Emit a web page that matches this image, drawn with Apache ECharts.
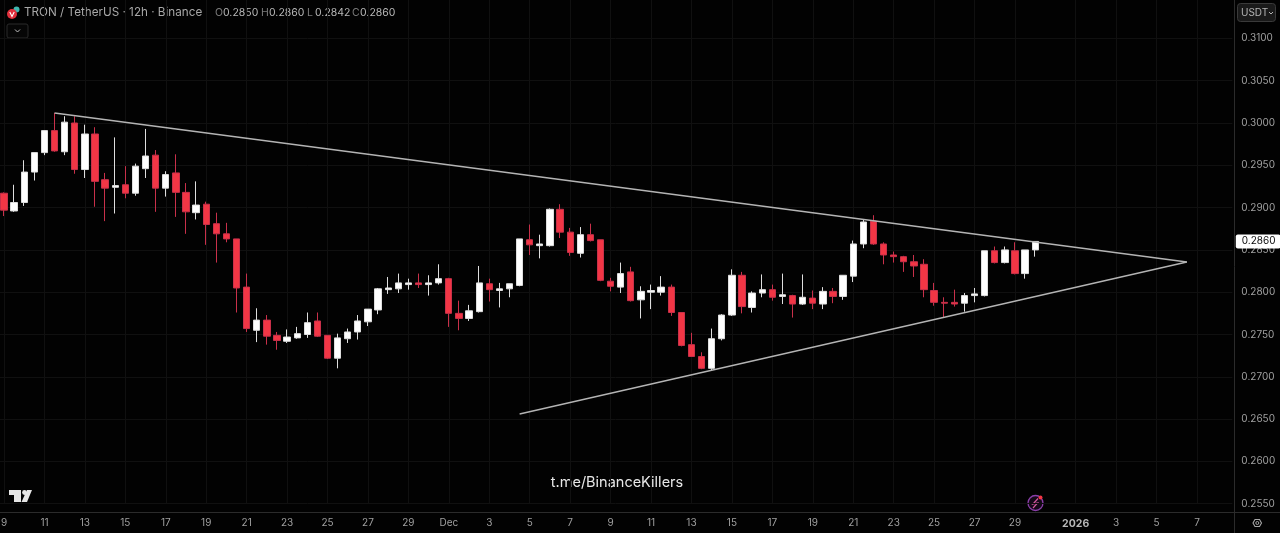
<!DOCTYPE html>
<html>
<head>
<meta charset="utf-8">
<style>html,body{margin:0;padding:0;background:#020202}#c{width:1280px;height:533px}</style>
<script src="https://cdn.jsdelivr.net/npm/echarts@6/dist/echarts.min.js"></script>
</head>
<body>
<div id="c"></div>
<script>
const opens = [0.2917,0.2896,0.2906,0.2942,0.2965,0.2991,0.2966,0.3000,0.2945,0.2987,0.2933,0.2924,0.2927,0.2917,0.2946,0.2962,0.2923,0.2941,0.2918,0.2894,0.2904,0.2881,0.2869,0.2863,0.2806,0.2755,0.2767,0.2749,0.2742,0.2746,0.2750,0.2766,0.2749,0.2722,0.2745,0.2753,0.2765,0.2779,0.2803,0.2804,0.2809,0.2811,0.2809,0.2811,0.2816,0.2775,0.2769,0.2777,0.2810,0.2802,0.2804,0.2808,0.2862,0.2855,0.2855,0.2898,0.2871,0.2846,0.2868,0.2862,0.2813,0.2806,0.2824,0.2791,0.2800,0.2800,0.2806,0.2776,0.2738,0.2724,0.2710,0.2745,0.2773,0.2820,0.2782,0.2799,0.2803,0.2795,0.2796,0.2786,0.2793,0.2786,0.2801,0.2795,0.2819,0.2857,0.2884,0.2857,0.2844,0.2842,0.2836,0.2833,0.2802,0.2788,0.2788,0.2787,0.2796,0.2796,0.2849,0.2835,0.2849,0.2822,0.2850];
const closes = [0.2897,0.2906,0.2942,0.2965,0.2991,0.2967,0.3001,0.2945,0.2987,0.2931,0.2923,0.2926,0.2917,0.2949,0.2961,0.2923,0.2939,0.2918,0.2895,0.2903,0.2880,0.2869,0.2863,0.2805,0.2757,0.2767,0.2748,0.2743,0.2747,0.2751,0.2764,0.2748,0.2722,0.2746,0.2753,0.2766,0.2780,0.2804,0.2805,0.2811,0.2811,0.2809,0.2811,0.2816,0.2775,0.2769,0.2778,0.2811,0.2803,0.2804,0.2810,0.2863,0.2856,0.2857,0.2898,0.2871,0.2847,0.2868,0.2861,0.2814,0.2807,0.2822,0.2790,0.2801,0.2802,0.2806,0.2776,0.2737,0.2724,0.2710,0.2745,0.2773,0.2820,0.2783,0.2799,0.2803,0.2794,0.2797,0.2786,0.2794,0.2787,0.2801,0.2795,0.2820,0.2857,0.2883,0.2857,0.2844,0.2842,0.2836,0.2831,0.2803,0.2788,0.2787,0.2786,0.2796,0.2798,0.2849,0.2835,0.2850,0.2822,0.2850,0.2860];
const lows = [0.2890,0.2895,0.2902,0.2932,0.2962,0.2966,0.2962,0.2940,0.2935,0.2901,0.2884,0.2893,0.2911,0.2914,0.2935,0.2895,0.2913,0.2889,0.2869,0.2886,0.2856,0.2835,0.2859,0.2776,0.2753,0.2741,0.2738,0.2732,0.2740,0.2745,0.2746,0.2747,0.2721,0.2710,0.2740,0.2744,0.2760,0.2774,0.2798,0.2799,0.2803,0.2805,0.2796,0.2809,0.2759,0.2755,0.2766,0.2776,0.2789,0.2782,0.2794,0.2807,0.2844,0.2840,0.2854,0.2864,0.2843,0.2841,0.2860,0.2813,0.2801,0.2799,0.2789,0.2769,0.2780,0.2796,0.2772,0.2736,0.2724,0.2709,0.2707,0.2743,0.2772,0.2775,0.2776,0.2794,0.2790,0.2786,0.2770,0.2785,0.2780,0.2780,0.2787,0.2791,0.2812,0.2852,0.2856,0.2833,0.2835,0.2824,0.2818,0.2794,0.2784,0.2770,0.2783,0.2777,0.2788,0.2795,0.2834,0.2834,0.2821,0.2816,0.2842];
const highs = [0.2918,0.2927,0.2956,0.2965,0.2991,0.3012,0.3008,0.3008,0.2998,0.2995,0.2941,0.2983,0.2949,0.2952,0.2993,0.2968,0.2943,0.2963,0.2929,0.2931,0.2907,0.2894,0.2882,0.2863,0.2822,0.2781,0.2773,0.2753,0.2756,0.2759,0.2776,0.2776,0.2749,0.2751,0.2757,0.2773,0.2780,0.2805,0.2818,0.2822,0.2816,0.2822,0.2820,0.2833,0.2817,0.2790,0.2785,0.2831,0.2816,0.2811,0.2810,0.2863,0.2880,0.2868,0.2899,0.2904,0.2876,0.2877,0.2881,0.2862,0.2817,0.2835,0.2830,0.2807,0.2809,0.2819,0.2809,0.2776,0.2752,0.2729,0.2757,0.2774,0.2827,0.2824,0.2801,0.2821,0.2809,0.2822,0.2797,0.2821,0.2802,0.2806,0.2805,0.2820,0.2861,0.2886,0.2891,0.2859,0.2848,0.2843,0.2844,0.2839,0.2811,0.2794,0.2803,0.2799,0.2805,0.2849,0.2854,0.2854,0.2859,0.2850,0.2860];

const tickDates = ['11-09','11-11','11-13','11-15','11-17','11-19','11-21','11-23','11-25','11-27','11-29','12-01','12-03','12-05','12-07','12-09','12-11','12-13','12-15','12-17','12-19','12-21','12-23','12-25','12-27','12-29','01-01','01-03','01-05','01-07'];
const tickLabels = ['9','11','13','15','17','19','21','23','25','27','29','Dec','3','5','7','9','11','13','15','17','19','21','23','25','27','29','2026','3','5','7'];
const priceTicks = {min:0.255,max:0.315,step:0.005};
const upperTrend = [[5,0.30118],[117,0.28357]];
const lowerTrend = [[51,0.26560],[117,0.28357]];
const slotCount = 122;
const headerText = 'TRON / TetherUS · 12h · Binance';
const ohlcLetters = ['O','H','L','C'];
const ohlcValues = ['0.2850','0.2860','0.2842','0.2860'];
const watermark = 't.me/BinanceKillers';

const categories = [];
{
  const pad = n => String(n).padStart(2,'0');
  for (let i=0;i<slotCount;i++){
    const d = new Date(Date.UTC(2025,10,9,12*i));
    categories.push(pad(d.getUTCMonth()+1)+'-'+pad(d.getUTCDate())+(d.getUTCHours()?' 12h':''));
  }
}
const candleData = opens.map((o,i)=>[o,closes[i],lows[i],highs[i]]);
const lastClose = closes[closes.length-1];
const isTick = (i,v)=>tickDates.includes(v);
const font = 'Inter, "Liberation Sans", sans-serif';
const GREY = '#a0a0a0';

const chart = echarts.init(document.getElementById('c'),null,{renderer:'canvas'});
const line = (x1,y1,x2,y2,stroke,w)=>({type:'line',silent:true,shape:{x1,y1,x2,y2},style:{stroke,lineWidth:w||1}});
const text = (x,y,t,fill,size,extra)=>({type:'text',silent:true,x,y,style:Object.assign({text:t,fill,font:(size)+'px '+font,verticalAlign:'middle'},extra||{})});
const ohlcX = [215,261,307,352];

chart.setOption({
  backgroundColor:'#020202',
  animation:false,
  grid:{left:-1.05,width:1233.4,top:-3.9,height:507.6,containLabel:false,outerBoundsMode:'none'},
  xAxis:{
    type:'category',data:categories,boundaryGap:true,offset:8.3,
    axisLine:{show:false},axisTick:{show:false},
    axisLabel:{interval:isTick,hideOverlap:false,margin:6,color:GREY,fontSize:10,fontFamily:font,
      formatter:(v)=>{const k=tickDates.indexOf(v);if(k<0)return '';const t=tickLabels[k];return t==='2026'?'{b|'+t+'}':t;},
      rich:{b:{fontWeight:700,color:'#b8b8b8',fontSize:10.5,fontFamily:font}}},
    splitLine:{show:true,interval:isTick,alignWithLabel:true,lineStyle:{color:'#101010',width:1}}
  },
  yAxis:{
    type:'value',position:'right',min:priceTicks.min,max:priceTicks.max,interval:priceTicks.step,scale:true,
    axisLine:{show:false},axisTick:{show:false},
    axisLabel:{margin:9,color:GREY,fontSize:10,fontFamily:font,showMaxLabel:false,formatter:v=>v.toFixed(4)},
    splitLine:{show:true,lineStyle:{color:'#101010',width:1}}
  },
  series:[
    {type:'candlestick',data:candleData,barWidth:6.8,clip:true,z:3,
      itemStyle:{color:'#ffffff',color0:'#f23645',borderColor:'#dedede',borderColor0:'#c9304a',borderWidth:1}},
    {type:'line',data:upperTrend,symbol:'none',clip:false,z:4,lineStyle:{color:'#b4b4b4',width:1.4}},
    {type:'line',data:lowerTrend,symbol:'none',clip:false,z:4,lineStyle:{color:'#b4b4b4',width:1.4}},
    {type:'line',data:[[slotCount-2,lastClose],[slotCount-1,lastClose]],symbol:'none',clip:false,z:6,silent:true,
      lineStyle:{color:'transparent',width:0},
      endLabel:{show:true,distance:8.5,formatter:()=>lastClose.toFixed(4),
        backgroundColor:'#ffffff',color:'#0a0a0a',fontSize:10,fontFamily:font,padding:[2,5,2,6],borderRadius:2}}
  ],
  graphic:{elements:[
    line(0,512.5,1280,512.5,'#2b2b2b'),
    line(1234.5,0,1234.5,533,'#2b2b2b'),
    // header
    {type:'circle',silent:true,shape:{cx:16.5,cy:9.5,r:3},style:{fill:'#3fb7b0'}},
    {type:'circle',silent:true,shape:{cx:12,cy:14,r:5},style:{fill:'#e0303c'}},
    {type:'polyline',silent:true,shape:{points:[[9.8,12],[12,16.5],[14.2,12]]},style:{stroke:'#fff',lineWidth:1.1,fill:null}},
    text(24,12.5,headerText,'#a8a8a8',11.7),
    ...ohlcLetters.flatMap((l,i)=>[
      text(ohlcX[i],12.5,l,'#7c7c7c',10.5),
      text(ohlcX[i]+8,12.5,ohlcValues[i],'#b8b8b8',10.5)]),
    {type:'rect',silent:true,shape:{x:7,y:24,width:21,height:14,r:2},style:{fill:'#060606',stroke:'#2a2a2a'}},
    {type:'polyline',silent:true,shape:{points:[[15,29.5],[17.5,32],[20,29.5]]},style:{stroke:'#c0c0c0',lineWidth:1,fill:null}},
    // unit button
    {type:'rect',silent:true,shape:{x:1237.5,y:3.5,width:38,height:18,r:3},style:{fill:'#1a1a1a',stroke:'#3a3a3a'}},
    text(1241,13,'USDT','#b4b4b4',10),
    {type:'polyline',silent:true,shape:{points:[[1269,12],[1271,14],[1273,12]]},style:{stroke:'#b4b4b4',lineWidth:1,fill:null}},
    // watermark
    text(617,483,watermark,'#e8e8e8',14.5,{align:'center'}),
    // tv logo
    {type:'polygon',silent:true,shape:{points:[[9,490],[21,490],[21,502],[14,502],[14,495],[9,495]]},style:{fill:'#e6e6e6'}},
    {type:'circle',silent:true,shape:{cx:24.5,cy:492.5,r:2.4},style:{fill:'#e6e6e6'}},
    {type:'polygon',silent:true,shape:{points:[[27,490],[32,490],[27,502],[21.5,502]]},style:{fill:'#e6e6e6'}},
    // bolt badge
    {type:'circle',silent:true,shape:{cx:1035.5,cy:503,r:7.5},style:{fill:'#150818',stroke:'#8a3fa8',lineWidth:1.3}},
    {type:'polyline',silent:true,shape:{points:[[1038,498.5],[1033,504],[1037.5,503],[1033,508]]},style:{stroke:'#d45aa0',lineWidth:1.2,fill:null}},
    {type:'circle',silent:true,shape:{cx:1040.5,cy:497.5,r:2},style:{fill:'#f23645'}},
    // settings
    {type:'polygon',silent:true,shape:{points:[[1253,523],[1255,519.5],[1259.5,519.5],[1261.5,523],[1259.5,526.5],[1255,526.5]]},style:{fill:'none',stroke:'#a8a8a8',lineWidth:1.1}},
    {type:'circle',silent:true,shape:{cx:1257.3,cy:523,r:1.5},style:{fill:'none',stroke:'#a8a8a8',lineWidth:1}}
  ]}
});
</script>
</body>
</html>
